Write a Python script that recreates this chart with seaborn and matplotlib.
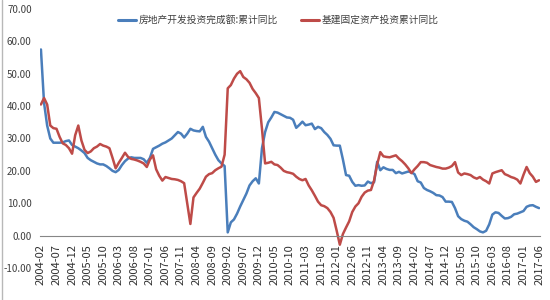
import numpy as np
import pandas as pd
import matplotlib
matplotlib.use("Agg")
import matplotlib.pyplot as plt
from matplotlib.lines import Line2D
import seaborn as sns

# ---- data ----
start_month = "2004-02"
n_months = 161

real_estate = [
    57.5, 41.0, 34.0, 30.0, 28.7, 28.7, 28.7, 28.8, 29.2, 29.4,
    28.0, 27.5, 27.0, 26.3, 25.5, 24.0, 23.3, 22.8, 22.3, 22.0,
    22.0, 21.5, 20.8, 20.0, 19.6, 20.3, 21.8, 23.0, 23.8, 24.2,
    24.0, 24.0, 24.0, 23.6, 22.5, 24.0, 26.8, 27.3, 27.8, 28.4,
    28.8, 29.4, 30.0, 31.0, 32.0, 31.5, 30.3, 31.5, 33.0, 32.5,
    32.3, 32.2, 33.6, 30.5, 29.0, 27.0, 25.0, 23.3, 22.3, 21.5,
    1.0, 4.1, 5.0, 6.8, 9.0, 11.0, 13.0, 15.5, 16.8, 17.7,
    16.1, 27.0, 32.0, 35.0, 36.5, 38.2, 38.0, 37.5, 37.0, 36.5,
    36.4, 35.8, 33.3, 34.2, 35.2, 34.1, 34.3, 34.6, 32.9, 33.6,
    33.2, 32.0, 31.1, 29.9, 27.9, 27.8, 27.8, 23.5, 18.7, 18.5,
    16.6, 15.4, 15.6, 15.4, 15.5, 16.7, 16.2, 16.5, 22.8, 20.2,
    21.1, 20.6, 20.3, 20.3, 19.3, 19.7, 19.2, 19.5, 19.8, 19.5,
    19.0, 16.8, 16.4, 14.7, 14.1, 13.7, 13.2, 12.5, 12.4, 11.9,
    10.5, 10.5, 10.4, 8.5, 6.0, 5.1, 4.6, 4.3, 3.5, 2.6,
    2.0, 1.3, 1.0, 1.5, 3.5, 6.5, 7.2, 7.0, 6.1, 5.3,
    5.4, 5.8, 6.6, 6.8, 7.2, 7.6, 8.9, 9.3, 9.4, 8.9,
    8.5,
]

infrastructure = [
    40.5, 42.5, 40.5, 34.0, 33.2, 33.0, 30.5, 28.5, 28.0, 27.0,
    25.3, 31.0, 34.0, 29.4, 26.5, 25.5, 26.0, 27.0, 27.5, 28.3,
    27.8, 27.5, 27.0, 24.0, 20.8, 22.5, 24.0, 25.6, 24.3, 23.7,
    23.5, 23.2, 22.8, 22.3, 21.2, 23.5, 24.8, 20.5, 18.5, 17.0,
    18.1, 17.8, 17.5, 17.4, 17.2, 16.8, 16.2, 10.0, 3.6, 11.8,
    13.2, 14.5, 16.3, 18.2, 19.0, 19.3, 20.2, 20.8, 21.3, 25.0,
    45.5, 46.5, 48.5, 50.0, 50.8, 49.0, 48.3, 47.2, 45.3, 44.0,
    42.5, 33.0, 22.3, 22.5, 22.8, 22.0, 21.8, 21.0, 20.0, 19.6,
    19.4, 19.1, 18.2, 17.5, 17.1, 17.5, 15.5, 14.0, 12.3, 10.5,
    9.4, 9.1, 8.5, 7.3, 5.5, 1.5, -2.8, 0.5, 2.5, 4.4,
    7.3, 9.0, 10.0, 12.0, 13.3, 13.9, 14.1, 17.0, 22.0, 25.8,
    24.5, 24.3, 24.2, 24.5, 24.8, 23.8, 23.0, 22.0, 20.8, 19.3,
    20.5, 21.5, 22.7, 22.7, 22.5, 21.8, 21.5, 21.2, 21.0, 20.7,
    20.7, 21.0, 21.5, 22.7, 19.5, 18.7, 19.2, 19.0, 18.7, 18.0,
    17.6, 18.1, 17.3, 16.8, 16.1, 19.2, 19.6, 19.9, 20.2, 19.0,
    18.6, 18.1, 17.8, 17.3, 16.1, 18.8, 21.2, 19.3, 18.2, 16.6,
    17.1,
]

series_names = ["房地产开发投资完成额:累计同比", "基建固定资产投资累计同比"]
y_ticks = [-10, 0, 10, 20, 30, 40, 50, 60, 70]
tick_every = 5

months = pd.period_range(start_month, periods=n_months, freq="M").strftime("%Y-%m").tolist()

df = pd.DataFrame({
    "idx": list(range(n_months)) * 2,
    "value": real_estate + infrastructure,
    "series": [series_names[0]] * n_months + [series_names[1]] * n_months,
})

# ---- style ----
sns.set_theme(style="white")
plt.rcParams["font.family"] = ["Noto Sans CJK SC", "DejaVu Sans"]

fig = plt.figure(figsize=(5.5, 3.0), dpi=100)
ax = fig.add_axes([40 / 550, (300 - 268) / 300, 500 / 550, (268 - 9) / 300])

palette = {series_names[0]: "#4a7ebb", series_names[1]: "#be4b48"}
sns.lineplot(data=df, x="idx", y="value", hue="series", palette=palette,
             linewidth=1.8, ax=ax, legend=False)

ax.set_xlim(-0.3, n_months - 1 + 0.3)
ax.set_ylim(-10, 70)
ax.set_yticks(y_ticks)
ax.set_yticklabels([f"{v:.2f}" for v in y_ticks], fontsize=7, color="#404040")
ax.tick_params(axis="y", length=0, pad=6)

xt = list(range(0, n_months, tick_every))
ax.set_xticks(xt)
ax.set_xticklabels([months[i] for i in xt])
ax.tick_params(axis="x", direction="out", length=4, width=0.8, color="#868686",
               pad=2, labelrotation=90, labelsize=8, labelcolor="#303030")
for lab in ax.get_xticklabels():
    lab.set_rotation(90)
    lab.set_family(["DejaVu Sans"])
    lab.set_horizontalalignment("center")
    lab.set_verticalalignment("top")

for s in ["top", "right", "left"]:
    ax.spines[s].set_visible(False)
ax.spines["bottom"].set_position(("data", 0))
ax.spines["bottom"].set_color("#868686")
ax.spines["bottom"].set_linewidth(0.8)
ax.set_xlabel("")
ax.set_ylabel("")
ax.grid(False)

handles = [Line2D([0], [0], color=palette[n], lw=2.2) for n in series_names]
fig.legend(handles, series_names, loc="center", bbox_to_anchor=(0.506, 0.933),
           ncol=2, frameon=False, fontsize=7, handlelength=1.9,
           handletextpad=0.3, columnspacing=2.3, labelcolor="#404040")

fig.add_artist(Line2D([0.003, 0.003], [0, 1], transform=fig.transFigure,
                      color="#b8b8b8", lw=1))

fig.savefig("out.png", dpi=100, facecolor="white")
